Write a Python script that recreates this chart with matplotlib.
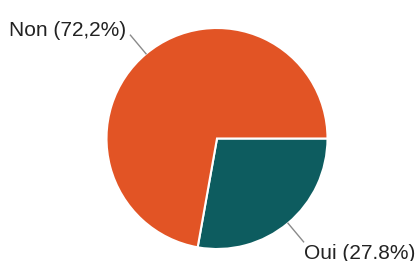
import numpy as np
import matplotlib
matplotlib.use("Agg")
import matplotlib.pyplot as plt

labels = ["Oui (27.8%)", "Non (72,2%)"]
values = [27.8, 72.2]
colors = ["#0d5c5f", "#e25425"]

W, H = 420, 261
fig = plt.figure(figsize=(W / 100, H / 100), dpi=100)
ax = fig.add_axes([0, 0, 1, 1])

cx, cy, r = 217, H - 138.5, 110.5
wedges, _ = ax.pie(values, colors=colors, startangle=0, counterclock=False,
                   center=(cx, cy), radius=r, frame=True,
                   wedgeprops=dict(edgecolor="white", linewidth=1.5))
ax.set_xlim(0, W)
ax.set_ylim(0, H)
ax.axis("off")

for w, lab in zip(wedges, labels):
    mid = np.deg2rad((w.theta1 + w.theta2) / 2)
    x0, y0 = cx + r * np.cos(mid), cy + r * np.sin(mid)
    x1, y1 = cx + 1.22 * r * np.cos(mid), cy + 1.22 * r * np.sin(mid)
    ax.plot([x0, x1], [y0, y1], color="#8a8a8a", lw=1)
    if np.cos(mid) < 0:
        ax.text(x1 - 4, y1 - 1, lab, ha="right", va="baseline",
                fontsize=15, family="Liberation Sans", color="#222222")
    else:
        ax.text(x1 + 0.5, y1 - 17, lab, ha="left", va="baseline",
                fontsize=15, family="Liberation Sans", color="#222222")

fig.savefig("out.png", dpi=100)
